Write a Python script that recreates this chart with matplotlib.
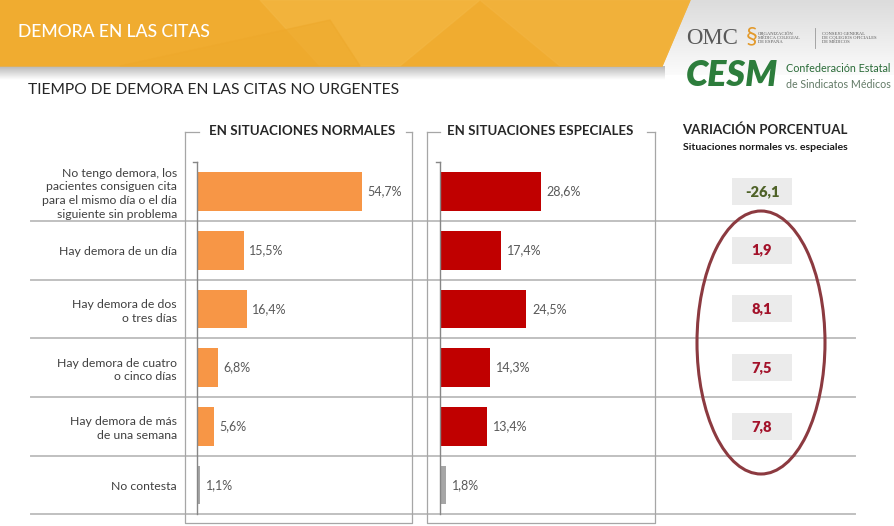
import matplotlib.pyplot as plt
import numpy as np
from matplotlib.patches import Polygon, Ellipse
from matplotlib.colors import LinearSegmentedColormap

plt.rcParams['font.family'] = ['Lato', 'DejaVu Sans']

# datos
categorias = ["No tengo demora, los\npacientes consiguen cita\npara el mismo día o el día\nsiguiente sin problema",
              "Hay demora de un día",
              "Hay demora de dos\no tres días",
              "Hay demora de cuatro\no cinco días",
              "Hay demora de más\nde una semana",
              "No contesta"]
normales = [54.7, 15.5, 16.4, 6.8, 5.6, 1.1]
especiales = [28.6, 17.4, 24.5, 14.3, 13.4, 1.8]
variacion = [-26.1, 1.9, 8.1, 7.5, 7.8]

W, H = 894, 526
fig = plt.figure(figsize=(W / 100, H / 100), dpi=100)
r = fig.canvas.get_renderer()

def caja(x0, y0, x1, y1):
    # pixeles -> fraccion de figura
    return [x0 / W, 1 - y1 / H, (x1 - x0) / W, (y1 - y0) / H]

def fit(t, w):
    bb = t.get_window_extent(r)
    t.set_fontsize(t.get_fontsize() * w / bb.width)

# fondo en pixeles
bg = fig.add_axes([0, 0, 1, 1])
bg.axis('off')

gris = LinearSegmentedColormap.from_list('g', ['#dcdcdc', '#fbfbfb'])
bg.imshow(np.linspace(0, 1, 50)[:, None], cmap=gris, extent=(600, 894, 75, 0), aspect='auto', zorder=0)
sombra = LinearSegmentedColormap.from_list('s', ['#b8b8b8', '#ffffff'])
bg.imshow(np.linspace(0, 1, 30)[:, None], cmap=sombra, extent=(0, 665, 80, 66), aspect='auto', zorder=0)

bg.add_patch(Polygon([(0, 0), (690, 0), (662, 66), (0, 66)], color='#f0ac30', zorder=1))
bg.add_patch(Polygon([(260, 0), (480, 0), (400, 66), (320, 66)], color='#f4ba48', alpha=0.5, zorder=1))
bg.add_patch(Polygon([(480, 0), (690, 0), (662, 66), (560, 66)], color='#f3b542', alpha=0.6, zorder=1))
bg.add_patch(Polygon([(120, 66), (330, 20), (360, 66)], color='#eea92c', alpha=0.6, zorder=1))

t = bg.text(18, 32, "DEMORA EN LAS CITAS", color='white', fontsize=13, fontweight='medium', va='center', zorder=2)
fit(t, 192)
t = bg.text(28, 90, "TIEMPO DE DEMORA EN LAS CITAS NO URGENTES", color='#262626', fontsize=12, va='center')
fit(t, 370)

# logos
t = bg.text(686, 38, "OMC", family=['Liberation Serif'], color='#595959', fontsize=16, va='center', zorder=2)
fit(t, 52)
bg.text(746, 37, "§", color='#e39a2c', fontsize=17, va='center', zorder=2)
bg.text(758, 38, "ORGANIZACIÓN\nMÉDICA COLEGIAL\nDE ESPAÑA", family=['Liberation Serif'],
        color='#555555', fontsize=3.3, va='center', linespacing=1.1, zorder=2)
bg.plot([815, 815], [28, 48], color='#999999', lw=0.6, zorder=2)
bg.text(822, 38, "CONSEJO GENERAL\nDE COLEGIOS OFICIALES\nDE MÉDICOS", family=['Liberation Serif'],
        color='#555555', fontsize=3.3, va='center', linespacing=1.1, zorder=2)
t = bg.text(686, 76, "CESM", color='#2d7d3c', fontsize=19, fontweight='heavy', style='italic', va='center', zorder=2)
fit(t, 92)
t = bg.text(786, 68, "Confederación Estatal", color='#2a6b38', fontsize=7.5, va='center', zorder=2)
fit(t, 104)
t = bg.text(786, 84, "de Sindicatos Médicos", color='#627a66', fontsize=7.5, va='center', zorder=2)
fit(t, 104)

# filas
fila0, fila_h = 162.15, 58.7
n = len(categorias)
for i in range(n):
    y = fila0 + (i + 1) * fila_h
    bg.plot([31, 855], [y, y], color='#c0c0c0', lw=1.4, zorder=1)

# marcos de los paneles
y_top, y_bot = 132, 523
for x0, x1, a, b in [(185, 412, 199, 406), (427, 655, 440, 647)]:
    bg.plot([x0, x0, x1, x1], [y_top, y_bot, y_bot, y_top], color='#a6a6a6', lw=0.9, zorder=1)
    bg.plot([x0, a], [y_top, y_top], color='#a6a6a6', lw=0.9, zorder=1)
    bg.plot([b, x1], [y_top, y_top], color='#a6a6a6', lw=0.9, zorder=1)

t = bg.text(302, 131, "EN SITUACIONES NORMALES", fontweight='bold', color='#262626', fontsize=10, ha='center', va='center')
fit(t, 186)
t = bg.text(540.5, 131, "EN SITUACIONES ESPECIALES", fontweight='bold', color='#262626', fontsize=10, ha='center', va='center')
fit(t, 185)
t = bg.text(765, 130, "VARIACIÓN PORCENTUAL", fontweight='bold', color='#262626', fontsize=10, ha='center', va='center')
fit(t, 164)
t = bg.text(765, 147, "Situaciones normales vs. especiales", fontweight='bold', color='#1a1a1a', fontsize=6.5, ha='center', va='center')
fit(t, 164)

bg.add_patch(Ellipse((761, 342.5), 128, 263, fill=False, edgecolor='#8c3a40', lw=2.2, zorder=3))

bg.set_xlim(0, W)
bg.set_ylim(H, 0)

# barras
y_bot_ax = fila0 + n * fila_h

def panel(x0, x1, xmax, valores, col):
    ax = fig.add_axes(caja(x0, fila0, x1, y_bot_ax))
    ax.patch.set_visible(False)
    ax.barh(range(n), valores, height=0.66, color=col)
    for i, v in enumerate(valores):
        ax.annotate(f"{v:.1f}%".replace('.', ','), (v, i), xytext=(4, 0), textcoords='offset points',
                    va='center', fontsize=9, color='#595959')
    ax.set_xlim(0, xmax)
    ax.set_ylim(n - 0.5, -0.5)
    for s in ['top', 'right', 'bottom']:
        ax.spines[s].set_visible(False)
    ax.spines['left'].set_color('#868686')
    ax.spines['left'].set_linewidth(1)
    ax.set_xticks([])
    ax.plot([-0.02, 0], [-0.5, -0.5], color='#868686', lw=1, transform=ax.get_yaxis_transform(), clip_on=False)
    return ax

c1 = ['#f79646'] * 5 + ['#a6a6a6']
c2 = ['#c00000'] * 5 + ['#a6a6a6']
ax1 = panel(197, 412, 215 / 3.02, normales, c1)
ax1.set_yticks(range(n), categorias)
ax1.tick_params(axis='y', length=0, pad=14.4, labelsize=8.8, labelcolor='#404040')
for lab in ax1.get_yticklabels():
    lab.set_linespacing(1.3)
ax2 = panel(440, 655, 215 / 3.53, especiales, c2)
ax2.set_yticks([])

# variacion porcentual
ax3 = fig.add_axes(caja(732, fila0, 792, y_bot_ax))
ax3.axis('off')
ax3.barh(range(len(variacion)), 1, height=27 / fila_h, color='#ebebeb')
for i, v in enumerate(variacion):
    ax3.text(0.5, i, f"{v:.1f}".replace('.', ','), ha='center', va='center', fontsize=10.5, fontweight='heavy',
             color='#4f6228' if v < 0 else '#a3122a')
ax3.set_xlim(0, 1)
ax3.set_ylim(n - 0.5, -0.5)

fig.savefig('out.png', dpi=100)
